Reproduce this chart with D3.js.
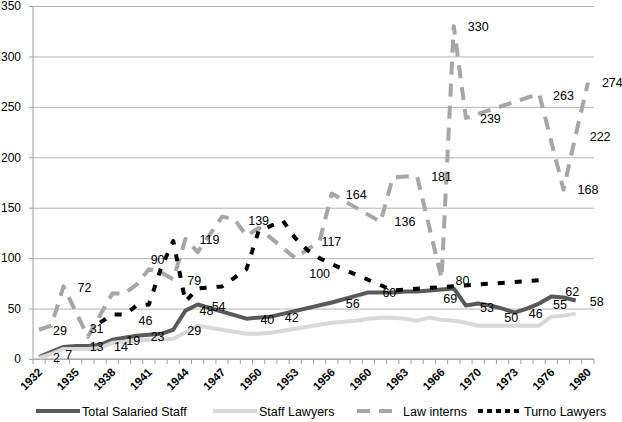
<!DOCTYPE html>
<html>
<head>
<meta charset="utf-8">
<script src="https://cdn.jsdelivr.net/npm/d3@7"></script>
<style>
  html, body { margin: 0; padding: 0; background: #fff; }
  svg { display: block; font-family: "Liberation Sans", Arial, sans-serif; }
</style>
</head>
<body>
<svg id="chart" width="622" height="422"></svg>
<script>
// ---------- data ----------
const years = ["1932","1933","1934","1935","1936","1937","1938","1939","1940","1941",
  "1942","1943","1944","1945","1946","1947","1948","1949","1950","1951",
  "1952","1953","1954","1955","1956","1957","1958","1960","1961","1962",
  "1963","1964","1965","1966","1967","1968","1970","1971","1972","1973",
  "1974","1975","1976","1977","1978","1980"];

const tickLabels = ["1932","1935","1938","1941","1944","1947","1950","1953",
  "1956","1960","1963","1966","1970","1973","1976","1980"];

const yTicks = [0, 50, 100, 150, 200, 250, 300, 350];

const seriesNames = ["Total Salaried Staff", "Staff Lawyers", "Law interns", "Turno Lawyers"];

const totalSalaried = [2, 7, 12, 13, 13, 14, 19, null, 23, 24,
  25, 29, 48, 54, null, null, null, 40, null, 42,
  null, null, null, null, 56, null, null, 66, 66, 66,
  67, 67, 68, 69, 70, 53, 55, 53, 50, 46,
  50, 55, 62, 61, 58, null];

const staffLawyers = [1, 5, 10, 10, 10, 11, 16, 17, 18, 19,
  19, 20, null, 33, 31, null, null, 25, 25, 26,
  null, null, null, null, 36, 37, 38, 40, 41, 41,
  40, 38, 41, 39, 38, 36, 33, 33, 33, 33,
  33, 33, 42, 43, 45, null];

const lawInterns = [29, 33, 72, null, 22, null, 65, 65, 74, 89,
  86, 79, 119, 106, null, 141, 139, 122, 130, null,
  null, 100, null, 117, 164, null, null, null, 136, 180,
  181, 181, null, 80, 330, 239, null, null, null, null,
  null, 263, null, 168, 222, 274];

const turnoLawyers = [null, null, null, null, null, 36, 44, 44, 53, 54,
  90, 117, 57, 70, 71, 72, null, 89, 127, 132,
  137, 120, 108, 100, 94, null, null, null, null, 68,
  null, null, null, null, null, null, null, null, null, null,
  null, 78, null, null, null, null];

// data labels: [text, year, value at label centre]
const dataLabels = [
  ["2","1932",1.0], ["7","1933",4.0], ["29","1932",27.8], ["72","1934",71.1],
  ["31","1935",30.4], ["13","1935",12.2], ["14","1937",12.2], ["19","1938",18.1],
  ["46","1939",38.0], ["23","1940",22.8], ["90","1940",98.2], ["79","1943",78.3],
  ["29","1943",28.1], ["119","1944",118], ["48","1944",47.6], ["54","1945",52.5],
  ["139","1948",137.8], ["40","1949",39.4], ["42","1951",41.3], ["100","1953",85],
  ["117","1954",116.3], ["164","1956",163.3], ["56","1956",55.2], ["136","1961",136.1],
  ["181","1964",180.7], ["60","1960",65.7], ["69","1965",60.2], ["80","1966",78.3],
  ["330","1967",329.5], ["239","1968",238.6], ["53","1968",51.3], ["50","1971",41.3],
  ["46","1973",45.3], ["263","1975",261.7], ["55","1975",54.5], ["62","1976",67.4],
  ["168","1977",167.6], ["222","1978",221], ["58","1978",57.5], ["274","1980",274]
];

// ---------- layout / style ----------
const seriesValues = [totalSalaried, staffLawyers, lawInterns, turnoLawyers];
const styles = [
  { color: "#595959", dash: null, legendDash: null },
  { color: "#d9d9d9", dash: null, legendDash: null },
  { color: "#a6a6a6", dash: "13,9", legendDash: "13,9" },
  { color: "#000000", dash: "7,10", legendDash: "5,4" }
];
const legendX = [36, 213, 357, 478];

const svg = d3.select("#chart");
const pLeft = 33, pRight = 594, pTop = 6, pBottom = 359;

const x = d3.scaleBand().domain(years).range([pLeft, pRight]).padding(0);
const bw = x.bandwidth();
const cx = d => x(d) + bw / 2;
const y = d3.scaleLinear().domain([0, 350]).range([pBottom, pTop]);

// gridlines
svg.append("g")
  .attr("transform", `translate(${pLeft},0)`)
  .call(d3.axisLeft(y).tickValues(yTicks).tickSize(-(pRight - pLeft)).tickFormat(""))
  .call(g => g.select(".domain").remove())
  .call(g => g.selectAll("line").attr("stroke", "#b4b4b4").attr("stroke-width", 1));

// left axis line
svg.append("line").attr("x1", pLeft).attr("x2", pLeft).attr("y1", pTop).attr("y2", pBottom)
  .attr("stroke", "#a0a0a0").attr("stroke-width", 1);

// y labels
svg.append("g")
  .attr("transform", `translate(${pLeft},0)`)
  .call(d3.axisLeft(y).tickValues(yTicks).tickSize(4).tickPadding(8))
  .call(g => g.select(".domain").remove())
  .call(g => g.selectAll("line").attr("stroke", "#a0a0a0"))
  .call(g => g.selectAll("text").attr("font-size", 12).attr("fill", "#000")
    .attr("font-family", "Liberation Sans, Arial, sans-serif"));

// bottom axis: domain + ticks at category boundaries
const bottomG = svg.append("g");
bottomG.append("line").attr("x1", pLeft).attr("x2", pRight).attr("y1", pBottom).attr("y2", pBottom)
  .attr("stroke", "#a0a0a0").attr("stroke-width", 1);
bottomG.selectAll("line.tk").data(years.concat(["_end"])).enter().append("line")
  .attr("class", "tk")
  .attr("x1", (d, i) => pLeft + i * bw).attr("x2", (d, i) => pLeft + i * bw)
  .attr("y1", pBottom).attr("y2", pBottom + 5)
  .attr("stroke", "#a0a0a0").attr("stroke-width", 1);
bottomG.selectAll("text").data(tickLabels).enter().append("text")
  .attr("transform", d => `translate(${cx(d) + 4},${pBottom + 14}) rotate(-45)`)
  .attr("text-anchor", "end")
  .attr("font-size", 11.5).attr("font-weight", "bold").attr("fill", "#000")
  .text(d => d);

// lines
const line = d3.line().x(d => cx(d.year)).y(d => y(d.value));
seriesValues.forEach((vals, si) => {
  const pts = years.map((yr, i) => ({ year: yr, value: vals[i] })).filter(p => p.value !== null);
  svg.append("path").datum(pts)
    .attr("d", line)
    .attr("fill", "none")
    .attr("stroke", styles[si].color)
    .attr("stroke-width", 4)
    .attr("stroke-linejoin", "round")
    .attr("stroke-dasharray", styles[si].dash);
});

// data labels
svg.append("g").selectAll("text").data(dataLabels).enter().append("text")
  .attr("x", d => cx(d[1]) + 14)
  .attr("y", d => y(d[2]))
  .attr("dy", "0.36em")
  .attr("font-size", 12.5).attr("fill", "#000")
  .text(d => d[0]);

// legend
const legY = 411;
const leg = svg.append("g");
seriesNames.forEach((name, i) => {
  leg.append("line")
    .attr("x1", legendX[i]).attr("x2", legendX[i] + 44)
    .attr("y1", legY).attr("y2", legY)
    .attr("stroke", styles[i].color).attr("stroke-width", 4)
    .attr("stroke-dasharray", styles[i].legendDash);
  leg.append("text")
    .attr("x", legendX[i] + 46).attr("y", legY).attr("dy", "0.36em")
    .attr("font-size", 12.5).attr("fill", "#000")
    .text(name);
});
</script>
</body>
</html>
